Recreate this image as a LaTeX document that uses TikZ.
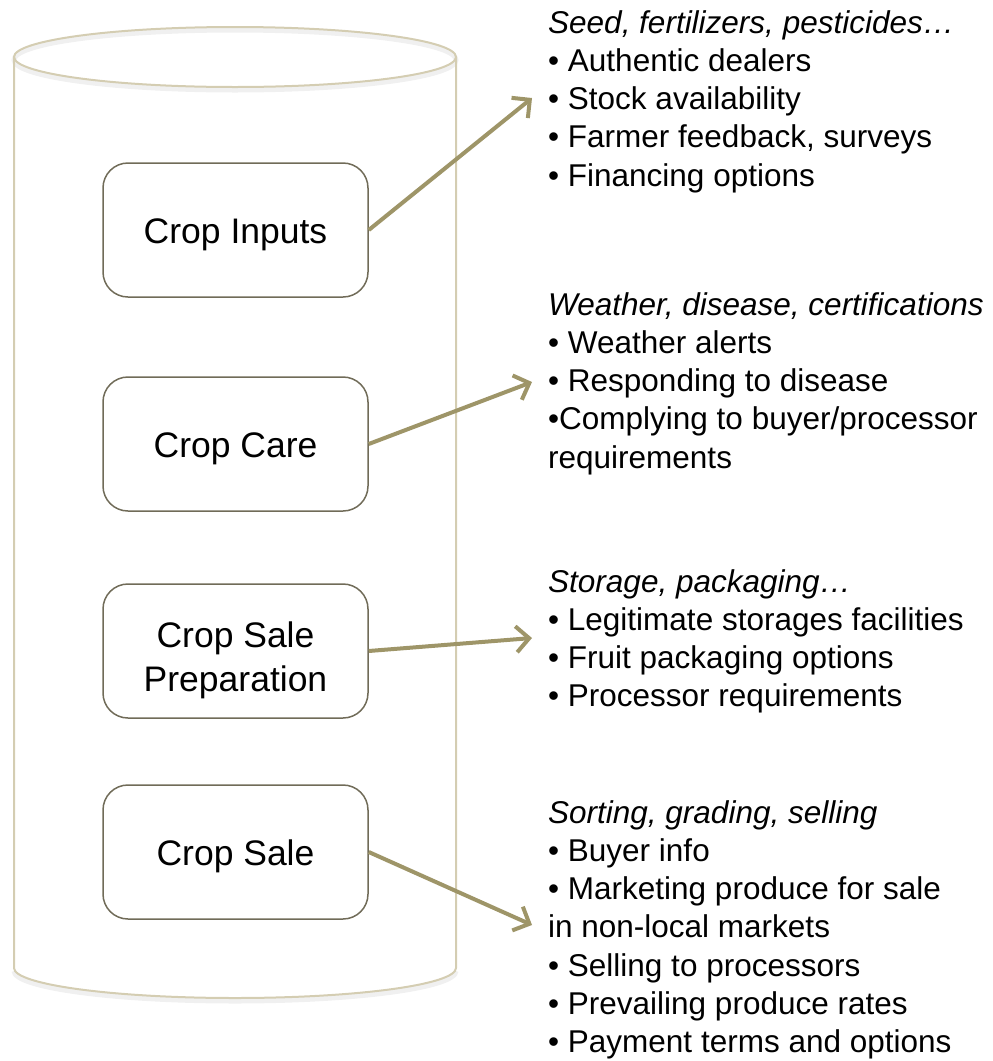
\documentclass[tikz,border=0pt]{standalone}
\usepackage{fontspec}
\setmainfont{Liberation Sans}
\usetikzlibrary{arrows.meta}
\definecolor{cylline}{RGB}{212,205,178}
\definecolor{boxline}{RGB}{112,107,88}
\definecolor{arrcol}{RGB}{158,149,104}
\begin{document}
\begin{tikzpicture}[x=1pt,y=-1pt,
  stagebox/.style={draw=boxline, line width=1.5pt, rounded corners=25pt,
    minimum width=265pt, minimum height=134pt, align=center, inner sep=0pt,
    text height=26pt, text depth=0pt,
    font=\fontsize{35.5}{44}\selectfont},
  infotext/.style={anchor=north west, align=left, inner sep=0pt,
    font=\fontsize{31.5}{38.3}\selectfont},
  flow/.style={draw=arrcol, line width=4pt, -{Straight Barb[length=13pt,width=26pt]}},
  cyl/.style={draw=cylline, line width=2pt},
  cylshadow/.style={draw=black, opacity=0.06, line width=5pt}]
\useasboundingbox (0,0) rectangle (993,1061);
% cylinder shadow
\draw[cylshadow] (235,60) ellipse[x radius=221, y radius=30];
\draw[cylshadow] (14,971) arc[start angle=180, end angle=0, x radius=221, y radius=30];
% cylinder
\draw[cyl] (14,57) -- (14,968) arc[start angle=180, end angle=0, x radius=221, y radius=30] -- (456,57);
\draw[cyl] (235,57) ellipse[x radius=221, y radius=30];
% stage boxes
\node[stagebox] (inputs) at (235.5,230) {Crop Inputs};
\node[stagebox] (care) at (235.5,444) {Crop Care};
\node[stagebox, text height=80pt] (prep) at (235.5,651) {Crop Sale\\Preparation};
\node[stagebox] (sale) at (235.5,852) {Crop Sale};
% info texts
\node[infotext] (t1) at (548,10) {\textit{Seed, fertilizers, pesticides…}\\
• Authentic dealers\\
• Stock availability\\
• Farmer feedback, surveys\\
• Financing options};
\node[infotext] (t2) at (548,292) {\textit{Weather, disease, certifications}\\
• Weather alerts\\
• Responding to disease\\
•Complying to buyer/processor\\
requirements};
\node[infotext] (t3) at (548,569) {\textit{Storage, packaging…}\\
• Legitimate storages facilities\\
• Fruit packaging options\\
• Processor requirements};
\node[infotext] (t4) at (548,800) {\textit{Sorting, grading, selling}\\
• Buyer info\\
• Marketing produce for sale\\
in non-local markets\\
• Selling to processors\\
• Prevailing produce rates\\
• Payment terms and options};
% arrow ends
\coordinate (e1) at (532,98);
\coordinate (e2) at (532,382);
\coordinate (e3) at (532,638);
\coordinate (e4) at (532,925);
\draw[flow] (inputs.east) -- (e1);
\draw[flow] (care.east) -- (e2);
\draw[flow] (prep.east) -- (e3);
\draw[flow] (sale.east) -- (e4);
\end{tikzpicture}
\end{document}
